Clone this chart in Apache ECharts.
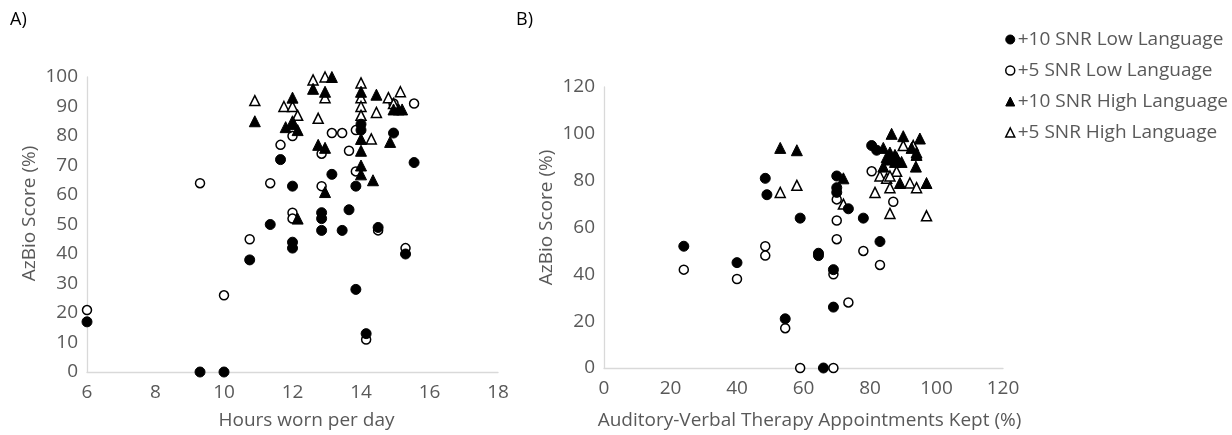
<!DOCTYPE html>
<html>
<head>
<meta charset="utf-8">
<script src="https://cdn.jsdelivr.net/npm/echarts@6/dist/echarts.min.js"></script>
<style>
html,body{margin:0;padding:0;background:#fff;}
#chart{width:1232px;height:435px;}
</style>
</head>
<body>
<div id="chart"></div>
<script>
// ---------- DATA ----------
var seriesNames = ['+10 SNR Low Language', '+5 SNR Low Language', '+10 SNR High Language', '+5 SNR High Language'];

var aXTicks = [6, 8, 10, 12, 14, 16, 18];
var aYTicks = [0, 10, 20, 30, 40, 50, 60, 70, 80, 90, 100];
var bXTicks = [0, 20, 40, 60, 80, 100, 120];
var bYTicks = [0, 20, 40, 60, 80, 100, 120];

// Panel A: [hours worn per day, AzBio score]
var aLow10 = [[6,17],[9.3,0],[10,0],[10.75,38],[11.35,50],[11.65,72],[12,63],[12,44],[12,42],[12.85,54],[12.85,52],[12.85,48],[13.15,67],[13.45,48],[13.65,55],[13.85,28],[13.85,63],[14,84],[14,82],[14.15,13],[14.5,49],[14.95,81],[15.3,40],[15.55,71]];
var aLow5 = [[6,21],[9.3,64],[10,26],[10.75,45],[11.35,64],[11.65,77],[12,80],[12,54],[12,52],[12.85,63],[12.85,74],[13.15,81],[13.45,81],[13.65,75],[13.85,82],[13.85,68],[14.15,11],[14.5,48],[14.95,91],[15.3,42],[15.55,91]];
var aHigh10 = [[10.9,85],[12,93],[11.8,83],[12,85],[12,84],[12.15,82],[12.15,52],[12.6,96],[12.95,95],[13.15,100],[12.75,77],[12.95,76],[12.95,61],[14,95],[14,79],[14,75],[14,70],[14,67],[14.45,94],[14.35,65],[14.85,78],[14.95,89],[15.1,89],[15.2,89]];
var aHigh5 = [[10.9,92],[11.75,90],[12,90],[12.15,87],[12.75,86],[12.6,99],[12.95,100],[12.95,93],[14,98],[14,93],[14,90],[14,87],[14.45,88],[14.3,79],[14.8,93],[15.15,95],[14.95,91]];

// Panel B: [AVT appointments kept %, AzBio score]
var bLow10 = [[24,52],[40,45],[48.5,81],[49,74],[54.5,21],[59,64],[64.5,49],[64.5,48],[66,0],[69,42],[69,26],[70,82],[70,77],[70,75],[73.5,68],[78,64],[80.5,95],[82,93],[83,54]];
var bLow5 = [[24,42],[40,38],[48.5,52],[48.5,48],[54.5,17],[59,0],[69,0],[69,40],[70,55],[70,63],[70,72],[73.5,28],[78,50],[80.5,84],[83,44],[87,71]];
var bHigh10 = [[53,94],[58,93],[72,81],[84,94],[86,92],[87.5,91],[85.5,89],[87.5,88],[89.5,88],[86.5,100],[90,99],[95,98],[92.5,94],[94,92],[94,91],[84,86],[93.8,86],[89,79],[97,79],[85,90],[88,90]];
var bHigh5 = [[53,75],[58,78],[72,70],[81.5,75],[83,82],[85,81],[86,77],[88,84],[90,95],[93,95],[92,79],[94,77],[86,66],[97,65],[86,82]];

// ---------- CHART ----------
var FONT = 'Open Sans';
var GRAY = '#595959';
var AXIS = '#d9d9d9';
var FS = 19;

var styles = [
  {symbol: 'circle', size: 10, item: {color: '#000', borderColor: '#000', borderWidth: 1, opacity: 1}},
  {symbol: 'circle', size: 9, item: {color: '#fff', borderColor: '#000', borderWidth: 1.5, opacity: 1}},
  {symbol: 'triangle', size: 11, item: {color: '#000', borderColor: '#000', borderWidth: 1, opacity: 1}},
  {symbol: 'triangle', size: 10, item: {color: '#fff', borderColor: '#000', borderWidth: 1.5, opacity: 1}}
];

function axis(min, max, ticks, name, nameGap, isY, gridIndex, namePad) {
  return {
    type: 'value', gridIndex: gridIndex, min: min, max: max,
    interval: ticks[1] - ticks[0],
    name: name, nameLocation: 'middle', nameGap: nameGap,
    nameTextStyle: {color: GRAY, fontSize: FS, fontFamily: FONT, padding: namePad},
    axisLine: {show: true, onZero: false, lineStyle: {color: AXIS, width: 1.3}},
    axisTick: {show: false},
    splitLine: {show: false},
    axisLabel: {color: GRAY, fontSize: FS, fontFamily: FONT, margin: isY ? 9 : 11}
  };
}

var dataSets = [[aLow10, aLow5, aHigh10, aHigh5], [bLow10, bLow5, bHigh10, bHigh5]];
var series = [];
for (var p = 0; p < 2; p++) {
  for (var s = 0; s < 4; s++) {
    series.push({
      type: 'scatter', name: seriesNames[s],
      xAxisIndex: p, yAxisIndex: p,
      symbol: styles[s].symbol, symbolSize: styles[s].size,
      itemStyle: styles[s].item,
      data: dataSets[p][s],
      z: 2 + (s % 2 === 0 ? 1 : 0)
    });
  }
}

var chart = echarts.init(document.getElementById('chart'), null, {renderer: 'canvas'});
chart.setOption({
  animation: false,
  backgroundColor: '#fff',
  grid: [
    {left: 87, top: 77, width: 411, height: 295},
    {left: 604, top: 87, width: 399, height: 286}
  ],
  xAxis: [
    axis(aXTicks[0], aXTicks[aXTicks.length - 1], aXTicks, 'Hours worn per day', 39, false, 0, [0, 0, 0, 28]),
    axis(bXTicks[0], bXTicks[bXTicks.length - 1], bXTicks, 'Auditory-Verbal Therapy Appointments Kept (%)', 43, false, 1, [0, 0, 0, 12])
  ],
  yAxis: [
    axis(aYTicks[0], aYTicks[aYTicks.length - 1], aYTicks, 'AzBio Score (%)', 48, true, 0, [0, 0, 0, 22]),
    axis(bYTicks[0], bYTicks[bYTicks.length - 1], bYTicks, 'AzBio Score (%)', 48, true, 1, [0, 0, 0, 20])
  ],
  legend: {
    orient: 'vertical', left: 1000, top: 25,
    itemWidth: 9, itemHeight: 9, itemGap: 12,
    textStyle: {color: GRAY, fontSize: FS, fontFamily: FONT, padding: [0, 0, 0, -2]},
    data: [
      {name: seriesNames[0], icon: 'circle', itemStyle: styles[0].item},
      {name: seriesNames[1], icon: 'circle', itemStyle: styles[1].item},
      {name: seriesNames[2], icon: 'triangle', itemStyle: styles[2].item},
      {name: seriesNames[3], icon: 'triangle', itemStyle: styles[3].item}
    ]
  },
  graphic: [
    {type: 'text', left: 10, top: 11, style: {text: 'A)', fill: '#000', font: '18px "Open Sans"'}},
    {type: 'text', left: 516, top: 11, style: {text: 'B)', fill: '#000', font: '18px "Open Sans"'}}
  ],
  series: series
});
</script>
</body>
</html>
